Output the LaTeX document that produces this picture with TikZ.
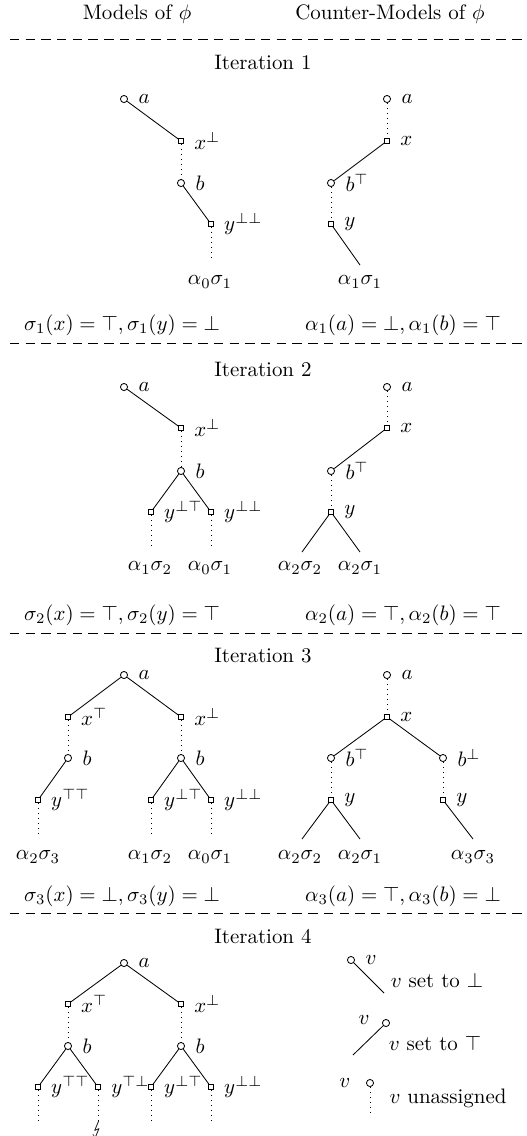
\documentclass[tikz,border=0pt]{standalone}
\usepackage{amsmath}
\usepackage{amssymb}
\usepackage{stmaryrd}
\usepackage{tikz}
\usetikzlibrary{positioning}

\begin{document}
\begin{tikzpicture}[x=0.478pt,y=-0.478pt,label distance=1.5pt,
   var/.style={draw,circle,inner sep=0pt,minimum size=3.4pt},
   sq/.style={draw,rectangle,inner sep=0pt,minimum size=2.2pt},
   unset/.style={dotted},
   sep/.style={dash pattern=on 4.5pt off 3pt}]
  \useasboundingbox (0,0) rectangle (527,1136);
  \node (hm) at (137,14) {Models of $\phi$};
  \node (hc) at (390,14) {Counter-Models of $\phi$};
  \coordinate (d0l) at (10,39); \coordinate (d0r) at (527,39);
  \draw[sep] (d0l) -- (d0r);

  % iteration 1
  \node (it1) at (263,62) {Iteration 1};
  \node[var,label=right:$a$] (a1) at (124,99) {};
  \node[sq,label=right:$x^\bot$] (x1) at (181,141) {};
  \node[var,label=right:$b$] (b1) at (181,183) {};
  \node[sq,label=right:$y^{\bot\bot}$] (y1) at (211,224) {};
  \coordinate (e1) at (211,260);
  \node (l1) at (210,282) {$\alpha_0\sigma_1$};
  \draw (a1) -- (x1); \draw[unset] (x1) -- (b1);
  \draw (b1) -- (y1); \draw[unset] (y1) -- (e1);
  \node[var,label=right:$a$] (ca1) at (387,99) {};
  \node[sq,label=right:$x$] (cx1) at (387,141) {};
  \node[var,label=right:$b^\top$] (cb1) at (331,183) {};
  \node[sq,label=right:$y$] (cy1) at (331,224) {};
  \coordinate (ce1) at (360,265);
  \node (cl1) at (360,282) {$\alpha_1\sigma_1$};
  \draw[unset] (ca1) -- (cx1); \draw (cx1) -- (cb1);
  \draw[unset] (cb1) -- (cy1); \draw (cy1) -- (ce1);
  \node (s1) at (122,325) {$\sigma_1(x)=\top,\sigma_1(y)=\bot$};
  \node (r1) at (403,325) {$\alpha_1(a)=\bot,\alpha_1(b)=\top$};
  \coordinate (d1l) at (10,343); \coordinate (d1r) at (527,343);
  \draw[sep] (d1l) -- (d1r);

  % iteration 2
  \node (it2) at (263,369) {Iteration 2};
  \node[var,label=right:$a$] (a2) at (124,387) {};
  \node[sq,label=right:$x^\bot$] (x2) at (181,428) {};
  \node[var,label=right:$b$] (b2) at (181,471) {};
  \node[sq,label=right:$y^{\bot\top}$] (y2a) at (151,512) {};
  \node[sq,label=right:$y^{\bot\bot}$] (y2b) at (211,512) {};
  \coordinate (e2a) at (151,548); \coordinate (e2b) at (211,548);
  \node (l2a) at (150,568) {$\alpha_1\sigma_2$};
  \node (l2b) at (210,568) {$\alpha_0\sigma_1$};
  \draw (a2) -- (x2); \draw[unset] (x2) -- (b2);
  \draw (b2) -- (y2a); \draw (b2) -- (y2b);
  \draw[unset] (y2a) -- (e2a); \draw[unset] (y2b) -- (e2b);
  \node[var,label=right:$a$] (ca2) at (387,387) {};
  \node[sq,label=right:$x$] (cx2) at (387,428) {};
  \node[var,label=right:$b^\top$] (cb2) at (331,471) {};
  \node[sq,label=right:$y$] (cy2) at (331,512) {};
  \coordinate (ce2a) at (302,552); \coordinate (ce2b) at (360,552);
  \node (cl2a) at (300,568) {$\alpha_2\sigma_2$};
  \node (cl2b) at (360,568) {$\alpha_2\sigma_1$};
  \draw[unset] (ca2) -- (cx2); \draw (cx2) -- (cb2);
  \draw[unset] (cb2) -- (cy2);
  \draw (cy2) -- (ce2a); \draw (cy2) -- (ce2b);
  \node (s2) at (122,615) {$\sigma_2(x)=\top,\sigma_2(y)=\top$};
  \node (r2) at (403,615) {$\alpha_2(a)=\top,\alpha_2(b)=\top$};
  \coordinate (d2l) at (10,633); \coordinate (d2r) at (527,633);
  \draw[sep] (d2l) -- (d2r);

  % iteration 3
  \node (it3) at (263,656) {Iteration 3};
  \node[var,label=right:$a$] (a3) at (124,675) {};
  \node[sq,label=right:$x^\top$] (x3a) at (68,717) {};
  \node[sq,label=right:$x^\bot$] (x3b) at (181,717) {};
  \node[var,label=right:$b$] (b3a) at (68,758) {};
  \node[var,label=right:$b$] (b3b) at (181,758) {};
  \node[sq,label=right:$y^{\top\top}$] (y3a) at (38,800) {};
  \node[sq,label=right:$y^{\bot\top}$] (y3b) at (151,800) {};
  \node[sq,label=right:$y^{\bot\bot}$] (y3c) at (211,800) {};
  \coordinate (e3a) at (38,837); \coordinate (e3b) at (151,837);
  \coordinate (e3c) at (211,837);
  \node (l3a) at (38,857) {$\alpha_2\sigma_3$};
  \node (l3b) at (150,857) {$\alpha_1\sigma_2$};
  \node (l3c) at (210,857) {$\alpha_0\sigma_1$};
  \draw (a3) -- (x3a); \draw (a3) -- (x3b);
  \draw[unset] (x3a) -- (b3a); \draw[unset] (x3b) -- (b3b);
  \draw (b3a) -- (y3a); \draw (b3b) -- (y3b); \draw (b3b) -- (y3c);
  \draw[unset] (y3a) -- (e3a); \draw[unset] (y3b) -- (e3b);
  \draw[unset] (y3c) -- (e3c);
  \node[var,label=right:$a$] (ca3) at (387,675) {};
  \node[sq,label=right:$x$] (cx3) at (387,717) {};
  \node[var,label=right:$b^\top$] (cb3a) at (331,758) {};
  \node[var,label=right:$b^\bot$] (cb3b) at (443,758) {};
  \node[sq,label=right:$y$] (cy3a) at (331,800) {};
  \node[sq,label=right:$y$] (cy3b) at (443,800) {};
  \coordinate (ce3a) at (302,839); \coordinate (ce3b) at (360,839);
  \coordinate (ce3c) at (473,839);
  \node (cl3a) at (300,857) {$\alpha_2\sigma_2$};
  \node (cl3b) at (360,857) {$\alpha_2\sigma_1$};
  \node (cl3c) at (473,857) {$\alpha_3\sigma_3$};
  \draw[unset] (ca3) -- (cx3);
  \draw (cx3) -- (cb3a); \draw (cx3) -- (cb3b);
  \draw[unset] (cb3a) -- (cy3a); \draw[unset] (cb3b) -- (cy3b);
  \draw (cy3a) -- (ce3a); \draw (cy3a) -- (ce3b); \draw (cy3b) -- (ce3c);
  \node (s3) at (122,896) {$\sigma_3(x)=\bot,\sigma_3(y)=\bot$};
  \node (r3) at (403,896) {$\alpha_3(a)=\top,\alpha_3(b)=\bot$};
  \coordinate (d3l) at (10,913); \coordinate (d3r) at (527,913);
  \draw[sep] (d3l) -- (d3r);

  % iteration 4
  \node (it4) at (263,936) {Iteration 4};
  \node[var,label=right:$a$] (a4) at (124,963) {};
  \node[sq,label=right:$x^\top$] (x4a) at (68,1004) {};
  \node[sq,label=right:$x^\bot$] (x4b) at (181,1004) {};
  \node[var,label=right:$b$] (b4a) at (68,1046) {};
  \node[var,label=right:$b$] (b4b) at (181,1046) {};
  \node[sq,label=right:$y^{\top\top}$] (y4a) at (38,1087) {};
  \node[sq,label=right:$y^{\top\bot}$] (y4b) at (98,1087) {};
  \node[sq,label=right:$y^{\bot\top}$] (y4c) at (151,1087) {};
  \node[sq,label=right:$y^{\bot\bot}$] (y4d) at (211,1087) {};
  \coordinate (e4a) at (38,1123); \coordinate (e4b) at (98,1123);
  \coordinate (e4c) at (151,1123); \coordinate (e4d) at (211,1123);
  \node (bolt) at (98,1130) {$\lightning$};
  \draw (a4) -- (x4a); \draw (a4) -- (x4b);
  \draw[unset] (x4a) -- (b4a); \draw[unset] (x4b) -- (b4b);
  \draw (b4a) -- (y4a); \draw (b4a) -- (y4b);
  \draw (b4b) -- (y4c); \draw (b4b) -- (y4d);
  \draw[unset] (y4a) -- (e4a); \draw[unset] (y4b) -- (e4b);
  \draw[unset] (y4c) -- (e4c); \draw[unset] (y4d) -- (e4d);

  % legend
  \node[var,label=right:$v$] (lg1) at (351,960) {};
  \coordinate (lge1) at (384,993);
  \draw (lg1) -- (lge1);
  \node (lt1) at (437,980) {$v$ set to $\bot$};
  \node[var,label={[label distance=2.5pt,yshift=1.5pt]left:$v$}] (lg2) at (386,1023) {};
  \coordinate (lge2) at (353,1055);
  \draw (lg2) -- (lge2);
  \node (lt2) at (435,1043) {$v$ set to $\top$};
  \node[var,label={[label distance=4pt]left:$v$}] (lg3) at (370,1083) {};
  \coordinate (lge3) at (370,1113);
  \draw[unset] (lg3) -- (lge3);
  \node (lt3) at (448,1098) {$v$ unassigned};
\end{tikzpicture}
\end{document}
